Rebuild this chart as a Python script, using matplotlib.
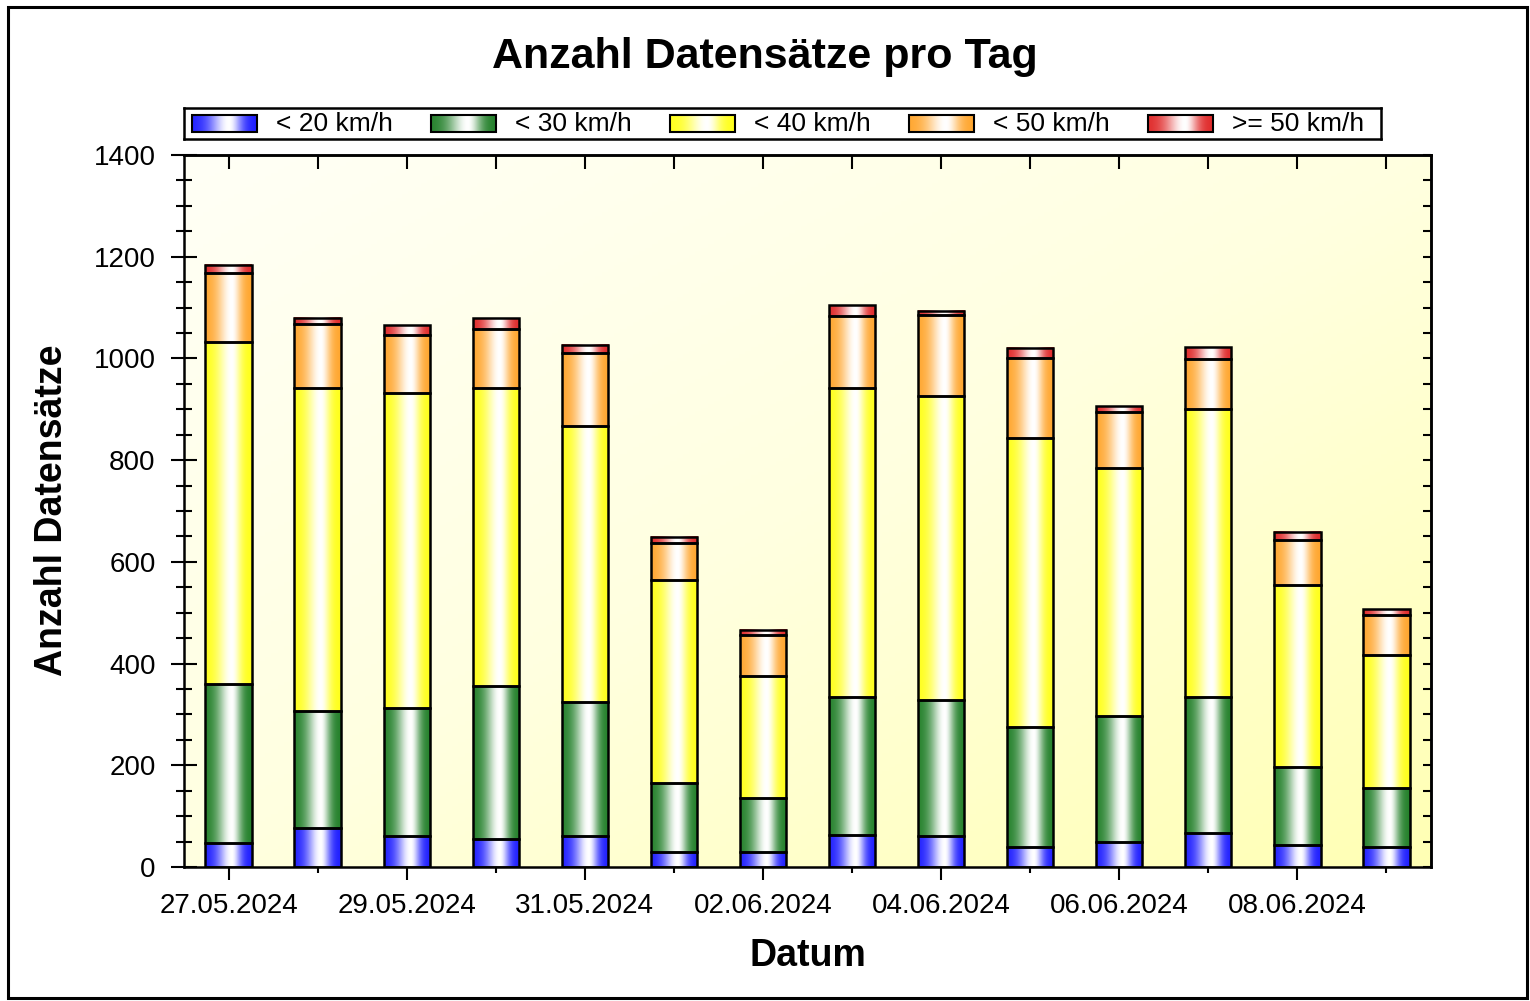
import numpy as np
import matplotlib
matplotlib.use("Agg")
import matplotlib.pyplot as plt
from matplotlib.colors import LinearSegmentedColormap, to_rgb
from matplotlib.ticker import MultipleLocator, FixedLocator, NullFormatter
from matplotlib.patches import Rectangle

plt.rcParams['font.family'] = ['Liberation Sans', 'DejaVu Sans']

# Daten
tage = ["27.05.2024", "28.05.2024", "29.05.2024", "30.05.2024", "31.05.2024",
        "01.06.2024", "02.06.2024", "03.06.2024", "04.06.2024", "05.06.2024",
        "06.06.2024", "07.06.2024", "08.06.2024", "09.06.2024"]
kategorien = ["< 20 km/h", "< 30 km/h", "< 40 km/h", "< 50 km/h", ">= 50 km/h"]
unter_20 = [47, 76, 61, 56, 60, 30, 29, 62, 60, 40, 49, 66, 44, 39]
unter_30 = [313, 231, 251, 299, 265, 135, 106, 272, 269, 236, 248, 268, 153, 116]
unter_40 = [672, 635, 620, 587, 543, 400, 241, 608, 598, 567, 488, 566, 357, 261]
unter_50 = [135, 125, 115, 116, 142, 72, 80, 142, 158, 157, 110, 99, 88, 80]
ab_50 = [17, 12, 18, 21, 16, 12, 10, 21, 9, 21, 11, 23, 16, 11]
farben = ["#1e1eff", "#23802a", "#ffff1a", "#ffa62e", "#e02a2a"]

serien = [unter_20, unter_30, unter_40, unter_50, ab_50]


def zylinder(c):
    # kraeftige Farbe am Rand, schmales weisses Glanzlicht rechts der Mitte
    c = np.array(to_rgb(c))
    t = np.linspace(0, 1, 64)
    glanz = np.exp(-((t - 0.57) / 0.2) ** 2)
    glanz[t < 0.57] = np.exp(-((t[t < 0.57] - 0.57) / 0.3) ** 2)
    cols = c + (1 - c) * glanz[:, None]
    return LinearSegmentedColormap.from_list("", list(zip(t, cols)))


grad = np.linspace(0, 1, 256).reshape(1, -1)

fig = plt.figure(figsize=(15.3, 10.01), dpi=100)
ax = fig.add_axes([184 / 1530, 1 - 867 / 1001, 1247 / 1530, 712 / 1001])

# Hintergrund-Verlauf
n = 200
xx, yy = np.meshgrid(np.linspace(0, 1, n), np.linspace(0, 1, n))
bg = LinearSegmentedColormap.from_list("", ["#fffff6", "#ffffe0", "#ffffb4"])
ax.imshow((xx + yy) / 2, extent=[0, 1, 0, 1], transform=ax.transAxes,
          cmap=bg, aspect='auto', zorder=0)

x = np.arange(len(tage))
breite = 0.52
bottom = np.zeros(len(tage))
for werte, farbe, name in zip(serien, farben, kategorien):
    werte = np.array(werte)
    cm = zylinder(farbe)
    for xi, b, v in zip(x, bottom, werte):
        ax.imshow(grad, extent=[xi - breite / 2, xi + breite / 2, b, b + v],
                  cmap=cm, aspect='auto', zorder=2, interpolation='bilinear')
    ax.bar(x, werte, breite, bottom=bottom, facecolor='none',
           edgecolor='black', linewidth=1.8, zorder=3, label=name)
    bottom = bottom + werte

ax.set_xlim(-0.5, len(tage) - 0.5)
ax.set_ylim(0, 1400)

for s in ax.spines.values():
    s.set_linewidth(1.8)

ax.set_xticks(x[::2])
ax.set_xticklabels(tage[::2])
ax.xaxis.set_minor_locator(FixedLocator(x[1::2]))
ax.tick_params(axis='x', which='major', direction='inout', length=19, width=1.5,
               pad=9, labelsize=20)
ax.tick_params(axis='x', which='minor', direction='out', length=4.5, width=1.5)
ax.yaxis.set_major_locator(MultipleLocator(200))
ax.yaxis.set_minor_locator(MultipleLocator(50))
ax.tick_params(axis='y', which='major', direction='inout', length=19, width=1.5,
               pad=11, labelsize=20)
ax.tick_params(axis='y', which='minor', direction='inout', length=11, width=1.5)

sx = ax.secondary_xaxis('top')
sx.set_xticks(x)
sx.xaxis.set_major_formatter(NullFormatter())
sx.tick_params(direction='in', length=10, width=1.5)
sx.spines['top'].set_linewidth(1.8)
sy = ax.secondary_yaxis('right')
sy.yaxis.set_major_locator(MultipleLocator(50))
sy.yaxis.set_major_formatter(NullFormatter())
sy.tick_params(direction='in', length=6, width=1.5)
sy.spines['right'].set_linewidth(1.8)

fig.text(0.5, 1 - 57 / 1001, "Anzahl Datensätze pro Tag", ha='center', va='center',
         fontsize=31, fontweight='bold')
fig.text(807.5 / 1530, 1 - 956 / 1001, "Datum", ha='center', va='center',
         fontsize=27, fontweight='bold')
fig.text(52 / 1530, 1 - 510 / 1001, "Anzahl Datensätze", ha='center', va='center',
         rotation=90, fontsize=27, fontweight='bold')

# Legende
lax = fig.add_axes([184 / 1530, 1 - 139 / 1001, 1197 / 1530, 31 / 1001])
lax.set_xticks([])
lax.set_yticks([])
for s in lax.spines.values():
    s.set_linewidth(1.8)
for i, (name, farbe) in enumerate(zip(kategorien, farben)):
    x0 = 8 + i * 239
    lax.imshow(grad, extent=[x0, x0 + 65, 24, 7], cmap=zylinder(farbe),
               aspect='auto', interpolation='bilinear')
    lax.add_patch(Rectangle((x0, 7), 65, 17, fill=False, lw=1.5, ec='black'))
    lax.text(x0 + 84, 16, name, va='center', ha='left', fontsize=19)
lax.set_xlim(0, 1197)
lax.set_ylim(31, 0)

# Rahmen
fig.patches.append(Rectangle((8 / 1530, 3 / 1001), 1519 / 1530, 991 / 1001,
                             transform=fig.transFigure, fill=False, lw=2.2,
                             ec='black'))

fig.savefig("out.png", dpi=100)
